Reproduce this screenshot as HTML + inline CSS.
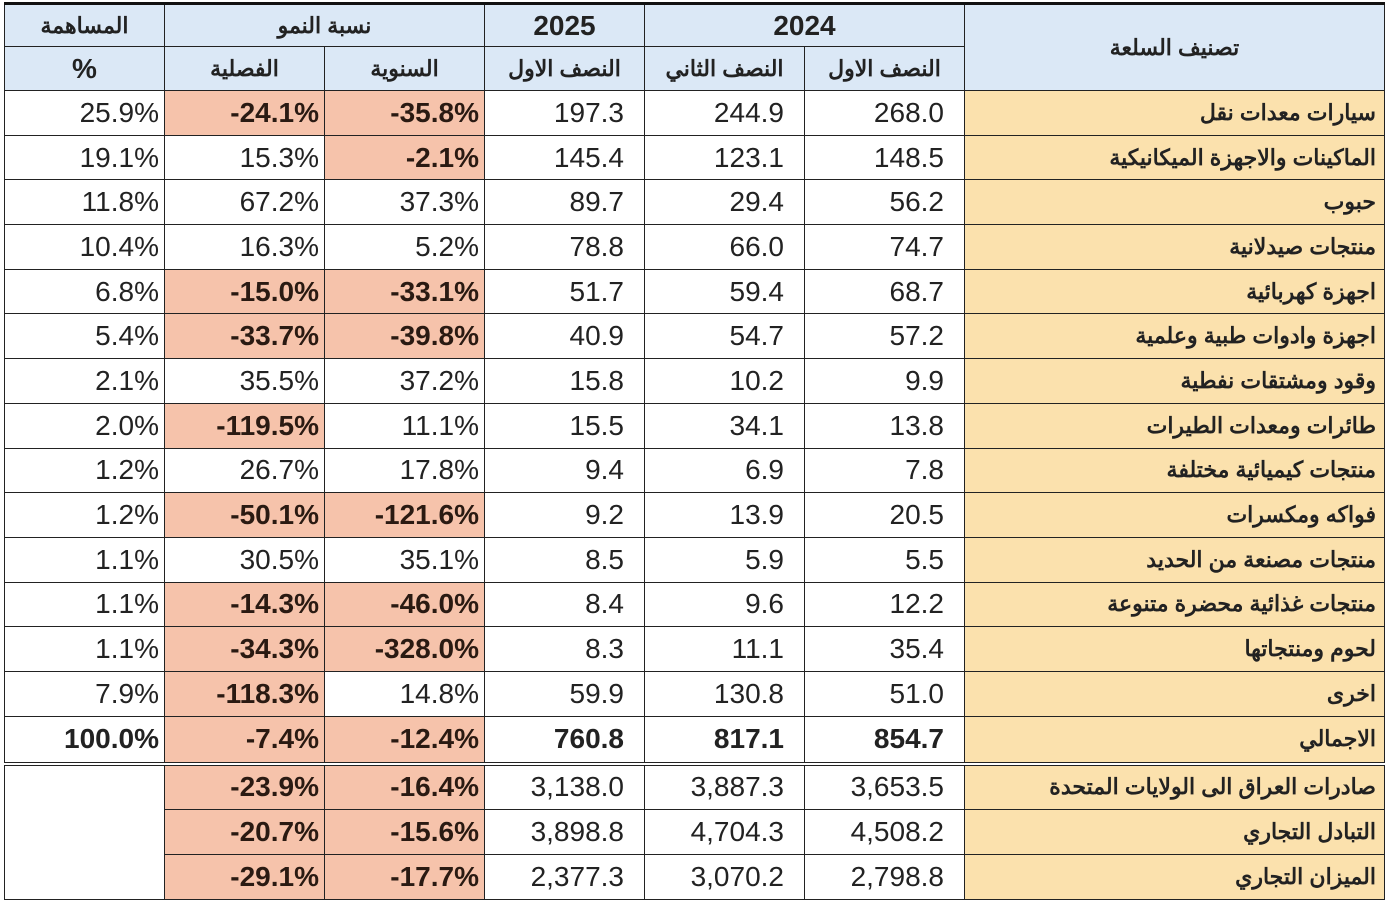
<!DOCTYPE html>
<html><head><meta charset="utf-8">
<style>
html,body{margin:0;padding:0;background:#fff;width:1386px;height:902px;overflow:hidden}
table{position:absolute;left:4px;top:2px;border-collapse:collapse;table-layout:fixed;font-family:"Liberation Sans","Noto Sans CJK SC",sans-serif;border-top:3px solid #111}
td{border:1.5px solid #222;padding:0;height:43.7px;font-size:28px;color:#222;text-align:right;white-space:nowrap;overflow:hidden}
td.n{padding-right:5px}
td.m{padding-right:20px}
td.p{background:#f6c3ab;font-weight:bold;color:#2a1a12}
td.c{background:#fbe1ad;font-weight:bold;font-size:22px;padding-right:8px;direction:rtl;text-align:right}
td.h{background:#dbe8f6;text-align:center;font-weight:bold;font-size:22px;height:41px}
td.y{font-size:28px}
tr.h2 td.h{height:43px}
tr.t td{font-weight:bold}
tr.t td{height:45px;border-bottom:4px double #222}
</style></head><body>
<table>
<colgroup><col style="width:160px"><col style="width:160px"><col style="width:160px"><col style="width:160px"><col style="width:160px"><col style="width:160px"><col style="width:420px"></colgroup>
<tr>
<td class="h">المساهمة</td>
<td class="h" colspan="2">نسبة النمو</td>
<td class="h y">2025</td>
<td class="h y" colspan="2">2024</td>
<td class="h" rowspan="2">تصنيف السلعة</td>
</tr>
<tr class="h2">
<td class="h y">%</td>
<td class="h">الفصلية</td>
<td class="h">السنوية</td>
<td class="h">النصف الاول</td>
<td class="h">النصف الثاني</td>
<td class="h">النصف الاول</td>
</tr>
<tr><td class="n">25.9%</td><td class="n p">-24.1%</td><td class="n p">-35.8%</td><td class="m">197.3</td><td class="m">244.9</td><td class="m">268.0</td><td class="c">سيارات معدات نقل</td></tr>
<tr><td class="n">19.1%</td><td class="n">15.3%</td><td class="n p">-2.1%</td><td class="m">145.4</td><td class="m">123.1</td><td class="m">148.5</td><td class="c">الماكينات والاجهزة الميكانيكية</td></tr>
<tr><td class="n">11.8%</td><td class="n">67.2%</td><td class="n">37.3%</td><td class="m">89.7</td><td class="m">29.4</td><td class="m">56.2</td><td class="c">حبوب</td></tr>
<tr><td class="n">10.4%</td><td class="n">16.3%</td><td class="n">5.2%</td><td class="m">78.8</td><td class="m">66.0</td><td class="m">74.7</td><td class="c">منتجات صيدلانية</td></tr>
<tr><td class="n">6.8%</td><td class="n p">-15.0%</td><td class="n p">-33.1%</td><td class="m">51.7</td><td class="m">59.4</td><td class="m">68.7</td><td class="c">اجهزة كهربائية</td></tr>
<tr><td class="n">5.4%</td><td class="n p">-33.7%</td><td class="n p">-39.8%</td><td class="m">40.9</td><td class="m">54.7</td><td class="m">57.2</td><td class="c">اجهزة وادوات طبية وعلمية</td></tr>
<tr><td class="n">2.1%</td><td class="n">35.5%</td><td class="n">37.2%</td><td class="m">15.8</td><td class="m">10.2</td><td class="m">9.9</td><td class="c">وقود ومشتقات نفطية</td></tr>
<tr><td class="n">2.0%</td><td class="n p">-119.5%</td><td class="n">11.1%</td><td class="m">15.5</td><td class="m">34.1</td><td class="m">13.8</td><td class="c">طائرات ومعدات الطيرات</td></tr>
<tr><td class="n">1.2%</td><td class="n">26.7%</td><td class="n">17.8%</td><td class="m">9.4</td><td class="m">6.9</td><td class="m">7.8</td><td class="c">منتجات كيميائية مختلفة</td></tr>
<tr><td class="n">1.2%</td><td class="n p">-50.1%</td><td class="n p">-121.6%</td><td class="m">9.2</td><td class="m">13.9</td><td class="m">20.5</td><td class="c">فواكه ومكسرات</td></tr>
<tr><td class="n">1.1%</td><td class="n">30.5%</td><td class="n">35.1%</td><td class="m">8.5</td><td class="m">5.9</td><td class="m">5.5</td><td class="c">منتجات مصنعة من الحديد</td></tr>
<tr><td class="n">1.1%</td><td class="n p">-14.3%</td><td class="n p">-46.0%</td><td class="m">8.4</td><td class="m">9.6</td><td class="m">12.2</td><td class="c">منتجات غذائية محضرة متنوعة</td></tr>
<tr><td class="n">1.1%</td><td class="n p">-34.3%</td><td class="n p">-328.0%</td><td class="m">8.3</td><td class="m">11.1</td><td class="m">35.4</td><td class="c">لحوم ومنتجاتها</td></tr>
<tr><td class="n">7.9%</td><td class="n p">-118.3%</td><td class="n">14.8%</td><td class="m">59.9</td><td class="m">130.8</td><td class="m">51.0</td><td class="c">اخرى</td></tr>
<tr class="t"><td class="n">100.0%</td><td class="n p">-7.4%</td><td class="n p">-12.4%</td><td class="m">760.8</td><td class="m">817.1</td><td class="m">854.7</td><td class="c">الاجمالي</td></tr>
<tr><td rowspan="3"></td><td class="n p">-23.9%</td><td class="n p">-16.4%</td><td class="m">3,138.0</td><td class="m">3,887.3</td><td class="m">3,653.5</td><td class="c">صادرات العراق الى الولايات المتحدة</td></tr>
<tr><td class="n p">-20.7%</td><td class="n p">-15.6%</td><td class="m">3,898.8</td><td class="m">4,704.3</td><td class="m">4,508.2</td><td class="c">التبادل التجاري</td></tr>
<tr><td class="n p">-29.1%</td><td class="n p">-17.7%</td><td class="m">2,377.3</td><td class="m">3,070.2</td><td class="m">2,798.8</td><td class="c">الميزان التجاري</td></tr>
</table>
</body></html>
